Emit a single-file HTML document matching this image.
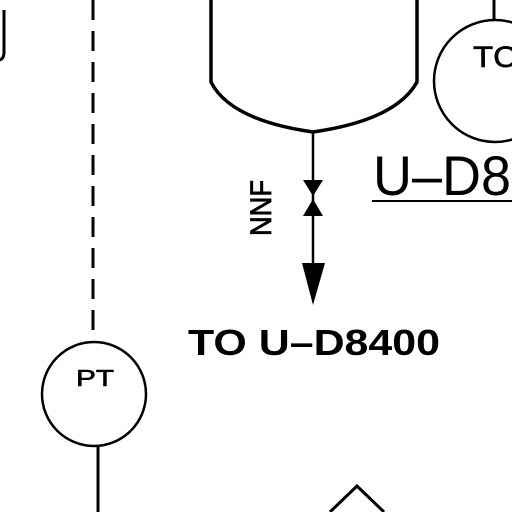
<!DOCTYPE html>
<html><head><style>
html,body{margin:0;padding:0;background:#fff;width:512px;height:512px;overflow:hidden}
svg{display:block}
text{font-family:"Liberation Sans",sans-serif;fill:#000}
</style></head><body>
<svg width="512" height="512" viewBox="0 0 512 512">
<path d="M4 10 V52 Q4 60 -2 60" fill="none" stroke="#000" stroke-width="3"/>
<line x1="93" y1="0" x2="93" y2="342" stroke="#000" stroke-width="3" stroke-dasharray="20,11"/>
<circle cx="94" cy="394" r="52" fill="none" stroke="#000" stroke-width="2.5"/>
<text x="76" y="386" font-size="23" textLength="38" lengthAdjust="spacingAndGlyphs" stroke="#000" stroke-width="0.6">PT</text>
<line x1="98" y1="447" x2="98" y2="512" stroke="#000" stroke-width="3"/>
<path d="M211 0 V82 Q230 120 313 132 Q396 120 417 82 V0" fill="none" stroke="#000" stroke-width="3.5"/>
<line x1="313" y1="132" x2="313" y2="300" stroke="#000" stroke-width="2.5"/>
<polygon points="303,180 323,180 313,196" fill="#000"/>
<polygon points="303,216 323,216 313,199" fill="#000"/>
<polygon points="302,263 325,263 313,305" fill="#000"/>
<text transform="translate(271,236) rotate(-90)" font-size="30" textLength="56" lengthAdjust="spacingAndGlyphs" stroke="#000" stroke-width="0.8">NNF</text>
<text x="188" y="355" font-size="36" font-weight="bold" textLength="252" lengthAdjust="spacingAndGlyphs">TO U–D8400</text>
<line x1="494" y1="0" x2="494" y2="20" stroke="#000" stroke-width="3"/>
<circle cx="495" cy="81" r="61" fill="none" stroke="#000" stroke-width="2.5"/>
<text x="473" y="67" font-size="30" textLength="44" lengthAdjust="spacingAndGlyphs" stroke="#000" stroke-width="0.6">TC</text>
<text x="373" y="195" font-size="56" textLength="138" lengthAdjust="spacingAndGlyphs">U–D8</text>
<line x1="372" y1="201" x2="512" y2="201" stroke="#000" stroke-width="2"/>
<path d="M330 512 L357 486 L384 512" fill="none" stroke="#000" stroke-width="3"/>
</svg>
</body></html>
